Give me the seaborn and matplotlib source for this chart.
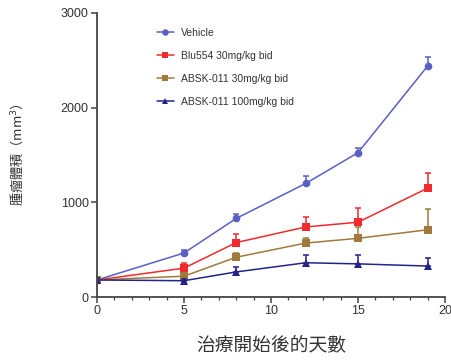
import matplotlib
matplotlib.use("Agg")
import matplotlib.pyplot as plt
import seaborn as sns
import pandas as pd
import numpy as np
from matplotlib.ticker import MultipleLocator

days = [0, 5, 8, 12, 15, 19]
series_names = ["Vehicle", "Blu554 30mg/kg bid", "ABSK-011 30mg/kg bid", "ABSK-011 100mg/kg bid"]
vehicle = [180, 465, 830, 1200, 1525, 2440]
vehicle_err = [20, 35, 50, 80, 45, 95]
blu554 = [180, 305, 575, 740, 790, 1150]
blu554_err = [20, 50, 90, 110, 150, 160]
absk30 = [180, 220, 420, 570, 620, 710]
absk30_err = [20, 30, 50, 50, 120, 220]
absk100 = [180, 172, 265, 362, 350, 327]
absk100_err = [20, 20, 50, 80, 90, 90]

sns.set_theme(style="ticks")
plt.rcParams['font.family'] = ['Liberation Sans', 'Noto Sans CJK TC', 'DejaVu Sans']

colors = ["#5a5fc4", "#f02a2e", "#a07a3c", "#23238a"]
markers = ["o", "s", "s", "^"]
values = [vehicle, blu554, absk30, absk100]
errs = [vehicle_err, blu554_err, absk30_err, absk100_err]

rows = []
for name, vals in zip(series_names, values):
    for d, v in zip(days, vals):
        rows.append({"day": d, "volume": v, "group": name})
df = pd.DataFrame(rows)

fig = plt.figure(figsize=(4.52, 3.63), dpi=100)
ax = fig.add_axes([0.2146, 0.1818, 0.77, 0.7824])

sns.lineplot(data=df, x="day", y="volume", hue="group", style="group",
             hue_order=series_names, style_order=series_names,
             palette=colors, markers=dict(zip(series_names, markers)),
             dashes=False, markersize=5.5, linewidth=1.1, markeredgewidth=0,
             ax=ax, legend=True)

for vals, err, c in zip(values, errs, colors):
    ax.errorbar(days, vals, yerr=[np.zeros(len(err)), err], fmt="none",
                ecolor=c, elinewidth=1.1, capsize=2.5, capthick=1.1)

ax.set_xlim(0, 20)
ax.set_ylim(0, 3000)
ax.set_xticks([0, 5, 10, 15, 20])
ax.xaxis.set_minor_locator(MultipleLocator(1))
ax.set_yticks([0, 1000, 2000, 3000])
for s in ["top", "right"]:
    ax.spines[s].set_visible(False)
for s in ["left", "bottom"]:
    ax.spines[s].set_color("#444444")
    ax.spines[s].set_linewidth(1.3)
ax.tick_params(axis="both", which="major", length=4, width=1.1, color="#444444",
               labelsize=9, labelcolor="#333333", pad=2)
ax.tick_params(axis="x", which="minor", length=2.5, width=0.9, color="#444444")

ax.set_xlabel("治療開始後的天數", fontsize=13.5, color="#333333",
              family=['Noto Sans CJK TC', 'DejaVu Sans'], labelpad=12)
ax.set_ylabel("腫瘤體積（mm$^3$）", fontsize=9.5, color="#333333",
              family=['Noto Sans CJK TC', 'DejaVu Sans'], labelpad=26)

leg = ax.legend(loc="upper left", bbox_to_anchor=(0.145, 0.98), frameon=False,
                fontsize=7.5, labelspacing=1.25, handlelength=1.6,
                handletextpad=0.7, markerscale=0.85, title=None)
for t in leg.get_texts():
    t.set_color("#333333")

fig.savefig("out.png", dpi=100)
